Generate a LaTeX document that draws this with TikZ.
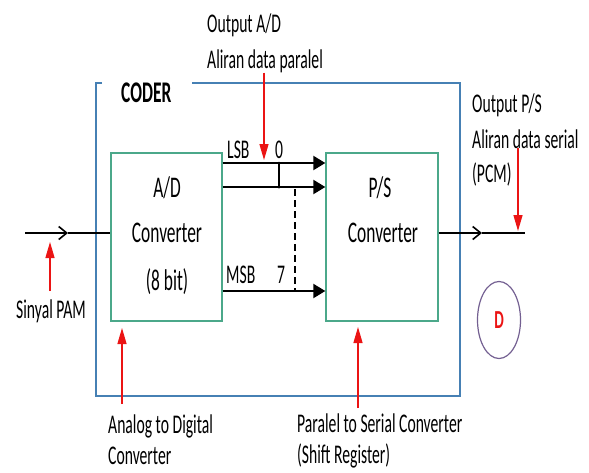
\documentclass[tikz,border=0pt]{standalone}
\usepackage{fontspec}
\setmainfont{Carlito}[FakeStretch=0.58]
\usetikzlibrary{arrows.meta}
\usetikzlibrary{calc}
\usetikzlibrary{shapes.geometric}
\definecolor{coderblue}{RGB}{70,128,180}
\definecolor{boxgreen}{RGB}{75,168,138}
\definecolor{notered}{RGB}{235,20,20}
\definecolor{ringviolet}{RGB}{115,95,145}

\begin{document}
\begin{tikzpicture}[x=1pt,y=-1pt,inner sep=0pt,
  txt/.style={font=\fontsize{27}{32}\selectfont,anchor=base west},
  big/.style={font=\fontsize{30}{34}\selectfont,anchor=base},
  conv/.style={draw=boxgreen,line width=1.3pt,minimum width=111pt,minimum height=168pt},
  note/.style={draw=notered,line width=1.3pt,-{Triangle[width=9pt,length=16pt,fill=notered]}},
  bus/.style={line width=2pt,-{Triangle[width=14pt,length=12pt]}},
  sig/.style={line width=1.6pt},
  barb/.style={sig,-{Straight Barb[length=8pt,width=13pt,line width=1.6pt]}}]
\useasboundingbox (0,0) rectangle (589,472);
\def\ysig{233}

% coder frame
\draw[coderblue,line width=1.3pt] (102,83) -- (96,83) -- (96,396) -- (460,396) -- (460,83) -- (192,83);
\node[big,anchor=base west,font=\fontsize{30}{34}\selectfont\bfseries] (coder) at (121,102) {CODER};

\node[conv] (ad) at (166.5,237) {};
\node[conv,minimum width=112pt] (ps) at (382,237) {};
\node[big] (ad1) at (167,197) {A/D};
\node[big] (ad2) at (167,242) {Converter};
\node[big] (ad3) at (167,290) {(8 bit)};
\node[big] (ps1) at (380,197) {P/S};
\node[big] (ps2) at (383,242) {Converter};

% parallel bus
\foreach \y in {163,187,291}
  \draw[bus] (ad.east |- 0,\y) -- (ps.west |- 0,\y);
\draw[line width=1.2pt] (279,163) -- (279,187);
\fill (279,163) circle (1.4pt) (279,187) circle (1.6pt);
\draw[line width=1.2pt,dash pattern=on 7pt off 4pt] (295,189) -- (295,291);
\node[txt] (lsb) at (227,158) {LSB};
\node[txt] (b0) at (275,158) {0};
\node[txt] (msb) at (226,283) {MSB};
\node[txt] (b7) at (277,283) {7};

% input and output
\coordinate (in) at (25,\ysig);
\coordinate (inbarb) at (68,\ysig);
\coordinate (out) at (525,\ysig);
\coordinate (outbarb) at (482,\ysig);
\draw[barb] (in) -- (inbarb);
\draw[sig] (inbarb) -- (ad.west |- in);
\draw[barb] (ps.east |- out) -- (outbarb);
\draw[sig] (outbarb) -- (out);

% notes
\node[txt] (oad1) at (207,32) {Output A/D};
\node[txt] (oad2) at (207,68) {Aliran data paralel};
\coordinate (oadtip) at (264,160);
\draw[note] (oad2.south -| oadtip) -- (oadtip);

\node[txt] (ops1) at (472,112) {Output P/S};
\node[txt] (ops2) at (472,148) {Aliran data serial};
\node[txt] (ops3) at (472,182) {(PCM)};
\coordinate (opstip) at (518,231);
\draw[note] (ops2.south -| opstip) -- (opstip);

\node[txt] (pam) at (16,318) {Sinyal PAM};
\coordinate (pamtip) at (50,242);
\draw[note] ([yshift=8pt]pam.north -| pamtip) -- (pamtip);

\node[txt] (adc1) at (108,433) {Analog to Digital};
\node[txt] (adc2) at (108,464) {Converter};
\coordinate (adctip) at (122,328);
\draw[note] ([yshift=10pt]adc1.north -| adctip) -- (adctip);

\node[txt] (psr1) at (297,432) {Paralel to Serial Converter};
\node[txt] (psr2) at (297,463) {(Shift Register)};
\coordinate (psrtip) at (358,327);
\draw[note] ([yshift=5pt]psr1.north -| psrtip) -- (psrtip);

\node[draw=ringviolet,line width=1.2pt,ellipse,minimum width=43pt,minimum height=77pt,
  text=notered,font=\fontsize{26}{30}\selectfont\bfseries] (d) at (499,320) {D};
\end{tikzpicture}
\end{document}
